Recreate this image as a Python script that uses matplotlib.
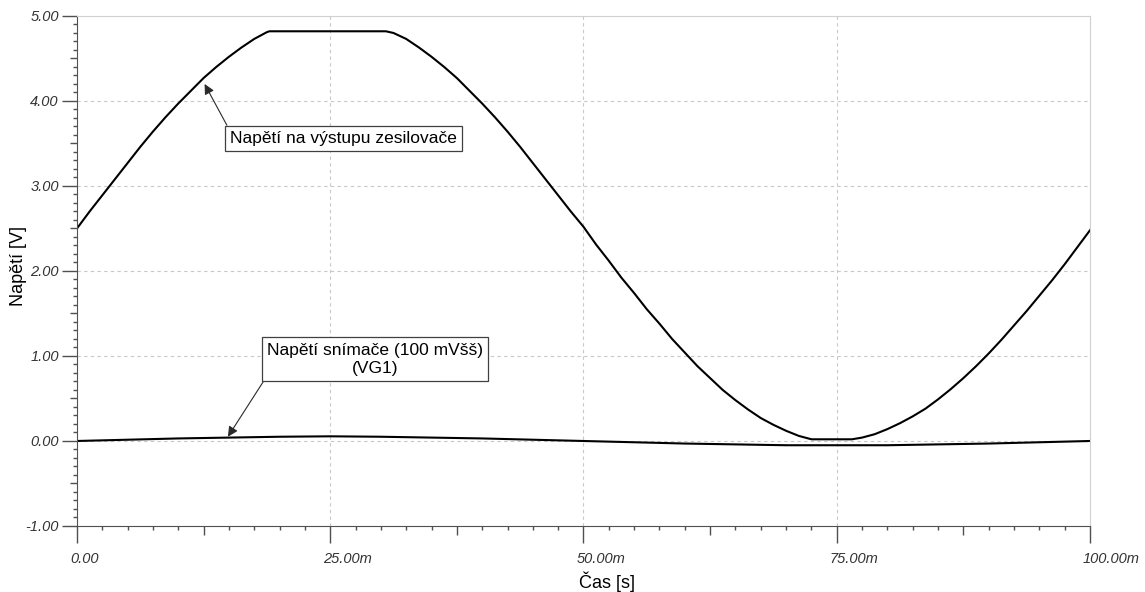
import matplotlib
matplotlib.use("Agg")
import matplotlib.pyplot as plt
import matplotlib.transforms as mtransforms

plt.rcParams['font.family'] = ['Liberation Sans', 'DejaVu Sans']

# Napětí na výstupu zesilovače (čas v ms, napětí ve V)
t_zes = [0, 1.25, 2.5, 3.75, 5, 6.25, 7.5, 8.75, 10, 11.25, 12.5, 13.75, 15,
         16.25, 17.5, 18.75, 19, 25, 30.5, 31.25, 32.5, 33.75, 35, 36.25, 37.5,
         38.75, 40, 41.25, 42.5, 43.75, 45, 46.25, 47.5, 48.75, 50, 51.25, 52.5,
         53.75, 55, 56.25, 57.5, 58.75, 60, 61.25, 62.5, 63.75, 65, 66.25, 67.5,
         68.75, 70, 71.25, 72.5, 75, 76.5, 77.5, 78.75, 80, 81.25, 82.5, 83.75,
         85, 86.25, 87.5, 88.75, 90, 91.25, 92.5, 93.75, 95, 96.25, 97.5, 98.75,
         100]
u_zes = [2.50, 2.70, 2.89, 3.08, 3.27, 3.46, 3.64, 3.81, 3.97, 4.12, 4.27, 4.40,
         4.52, 4.63, 4.73, 4.81, 4.82, 4.82, 4.82, 4.80, 4.73, 4.63, 4.52, 4.40,
         4.27, 4.12, 3.97, 3.81, 3.64, 3.46, 3.27, 3.08, 2.89, 2.70, 2.52, 2.31,
         2.12, 1.92, 1.74, 1.55, 1.38, 1.20, 1.04, 0.88, 0.74, 0.60, 0.48, 0.37,
         0.27, 0.19, 0.12, 0.06, 0.02, 0.02, 0.02, 0.04, 0.08, 0.14, 0.21, 0.29,
         0.38, 0.49, 0.61, 0.74, 0.88, 1.03, 1.19, 1.36, 1.53, 1.71, 1.89, 2.08,
         2.28, 2.48]

# Napětí snímače (VG1)
t_vg1 = [0, 5, 10, 15, 20, 25, 30, 35, 40, 45, 50, 55, 60, 65, 70, 75, 80, 85,
         90, 95, 100]
u_vg1 = [0.00, 0.015, 0.03, 0.04, 0.05, 0.055, 0.05, 0.04, 0.03, 0.015, 0.00,
         -0.015, -0.03, -0.04, -0.05, -0.05, -0.05, -0.04, -0.03, -0.015, 0.00]

x_labels = ['0.00', '25.00m', '50.00m', '75.00m', '100.00m']
y_labels = ['-1.00', '0.00', '1.00', '2.00', '3.00', '4.00', '5.00']

fig = plt.figure(figsize=(11.45, 5.92), dpi=100)
ax = fig.add_axes([0.0672, 0.1115, 0.8848, 0.8615])

ax.set_xlim(0, 100)
ax.set_ylim(-1, 5)

# mřížka
for x in [25, 50, 75]:
    ax.axvline(x, color='#c8c8c8', lw=0.8, ls=(0, (3, 3)), zorder=0)
for y in [0, 1, 2, 3, 4]:
    ax.axhline(y, color='#c8c8c8', lw=0.8, ls=(0, (3, 3)), zorder=0)

ax.plot(t_zes, u_zes, color='black', lw=1.5)
ax.plot(t_vg1, u_vg1, color='black', lw=1.5)

for s in ['top', 'right']:
    ax.spines[s].set_color('#d0d0d0')
for s in ['left', 'bottom']:
    ax.spines[s].set_color('#505050')

# osa x: hlavní po 12.5, vedlejší po 2.5
ax.set_xticks([0, 12.5, 25, 37.5, 50, 62.5, 75, 87.5, 100])
ax.set_xticklabels([x_labels[0], '', x_labels[1], '', x_labels[2], '',
                    x_labels[3], '', x_labels[4]])
ax.set_xticks([i * 2.5 for i in range(41)], minor=True)
ax.tick_params(axis='x', which='major', direction='out', length=12, width=1,
               color='#505050', pad=7, labelsize=10.5, labelcolor='#333333')
ax.tick_params(axis='x', which='minor', direction='out', length=3, width=1,
               color='#505050')
for i, tk in enumerate(ax.xaxis.get_major_ticks()):
    if i % 2 == 1:
        tk.tick1line.set_markersize(6.5)

posun = mtransforms.ScaledTranslation(-7 / 100, 0, fig.dpi_scale_trans)
for lab in ax.get_xticklabels():
    lab.set_ha('left')
    lab.set_transform(lab.get_transform() + posun)

# osa y: hlavní po 0.5, vedlejší po 0.1
ax.set_yticks([-1 + 0.5 * i for i in range(13)])
ax.set_yticklabels([y_labels[i // 2] if i % 2 == 0 else '' for i in range(13)])
ax.set_yticks([-1 + 0.1 * i for i in range(61)], minor=True)
ax.tick_params(axis='y', which='major', direction='out', length=11, width=1,
               color='#505050', pad=2, labelsize=10.5, labelcolor='#333333')
ax.tick_params(axis='y', which='minor', direction='out', length=3, width=1,
               color='#505050')
for i, tk in enumerate(ax.yaxis.get_major_ticks()):
    if i % 2 == 1:
        tk.tick1line.set_markersize(5)

for lab in ax.get_xticklabels() + ax.get_yticklabels():
    lab.set_fontstyle('italic')

ax.set_xlabel('Čas [s]', fontsize=13, labelpad=0)
ax.xaxis.set_label_coords(0.523, -0.09)
ax.set_ylabel('Napětí [V]', fontsize=13)
ax.yaxis.set_label_coords(-0.049, 0.51)

box = dict(boxstyle='square,pad=0.3', fc='white', ec='#404040', lw=0.9)
sipka = dict(arrowstyle='-|>', color='#2a2a2a', lw=0.8, mutation_scale=15,
             shrinkA=0, shrinkB=0)
ax.annotate('Napětí na výstupu zesilovače', xy=(12.6, 4.2), xytext=(26.3, 3.56),
            fontsize=12.5, bbox=box, ha='center', va='center',
            arrowprops=dict(sipka, relpos=(0, 1)))
ax.annotate('Napětí snímače (100 mVšš)\n(VG1)', xy=(14.9, 0.05),
            xytext=(29.4, 0.96), fontsize=12.5, bbox=box, ha='center',
            va='center', multialignment='center', linespacing=1.3,
            arrowprops=dict(sipka, relpos=(0, 0)))

plt.savefig('out.png', dpi=100)
